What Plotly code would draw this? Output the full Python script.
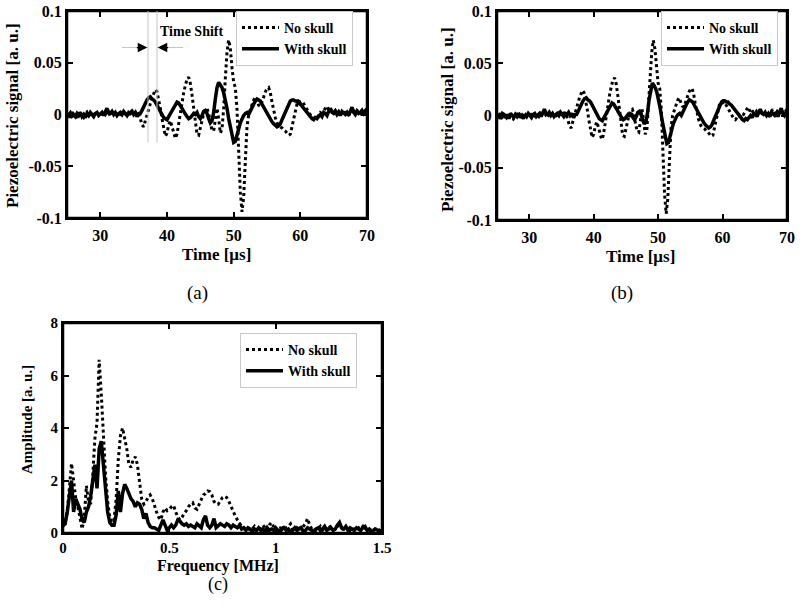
import numpy as np
import plotly.graph_objects as go

# ---------------- data ----------------
T_START = 23.0      # first sample time [us]
T_STEP = 0.25       # sampling step [us]
TIME_SHIFT = 1.35   # shift applied to the "with skull" signal in panel (b) [us]

with_skull = [
    0.001, -0.002, 0.002, -0.001, 0.000, -0.003, 0.002, 0.001,
    -0.002, 0.001, -0.003, 0.002, 0.000, -0.002, 0.001, -0.001,
    0.002, -0.002, 0.000, -0.003, 0.001, -0.001, 0.002, 0.000,
    -0.002, 0.001, 0.002, -0.001, 0.000, 0.002, -0.001, 0.003,
    0.006, 0.002, 0.001, 0.003, 0.000, 0.002, -0.001, 0.001,
    0.002, 0.000, 0.003, 0.001, -0.001, 0.002, 0.001, 0.003,
    0.000, 0.002, -0.002, 0.001, 0.001, 0.004, 0.008, 0.012,
    0.014, 0.016, 0.017, 0.015, 0.014, 0.012, 0.009, 0.005,
    0.002, -0.001, -0.003, -0.004, -0.005, -0.002, 0.001, 0.004,
    0.007, 0.010, 0.012, 0.011, 0.009, 0.006, 0.003, 0.000,
    -0.002, -0.004, -0.003, -0.001, 0.001, 0.000, 0.002, -0.002,
    -0.004, -0.001, 0.003, 0.004, 0.001, -0.004, -0.008, -0.006,
    0.002, 0.015, 0.026, 0.031, 0.029, 0.026, 0.021, 0.014,
    0.006, -0.004, -0.013, -0.021, -0.027, -0.026, -0.021, -0.014,
    -0.008, -0.004, -0.001, 0.001, 0.002, 0.000, 0.004, 0.006,
    0.010, 0.013, 0.015, 0.014, 0.013, 0.010, 0.007, 0.004,
    0.002, -0.001, -0.004, -0.007, -0.009, -0.011, -0.012, -0.011,
    -0.009, -0.005, -0.001, 0.003, 0.007, 0.010, 0.013, 0.014,
    0.014, 0.013, 0.013, 0.011, 0.010, 0.008, 0.006, 0.003,
    0.002, -0.001, -0.002, -0.004, -0.005, -0.003, -0.004, -0.002,
    0.000, -0.002, 0.002, 0.001, -0.001, 0.003, 0.006, 0.002,
    0.001, 0.003, 0.000, 0.002, -0.001, 0.003, 0.001, 0.000,
    0.002, -0.001, 0.003, 0.007, 0.002, 0.000, 0.003, 0.001,
    0.002, 0.004, 0.001, 0.003, 0.000,
]

no_skull = [
    0.000, 0.002, -0.001, 0.001, -0.002, 0.001, 0.003, -0.001,
    -0.003, 0.000, 0.002, -0.002, -0.001, 0.001, -0.002, 0.000,
    0.001, -0.001, -0.003, 0.000, 0.002, -0.002, 0.001, -0.001,
    0.000, -0.002, 0.001, 0.000, -0.001, 0.001, 0.002, 0.000,
    0.003, 0.001, -0.001, 0.002, 0.001, -0.001, 0.000, 0.002,
    0.000, 0.001, -0.001, 0.002, 0.003, 0.000, 0.001, 0.004,
    0.001, 0.002, -0.001, 0.000, -0.004, -0.010, -0.012, -0.006,
    0.000, 0.005, 0.011, 0.016, 0.020, 0.024, 0.022, 0.015,
    0.006, -0.004, -0.014, -0.021, -0.018, -0.010, -0.006, -0.011,
    -0.018, -0.023, -0.019, -0.008, 0.002, 0.012, 0.021, 0.028,
    0.034, 0.036, 0.030, 0.019, 0.006, -0.008, -0.019, -0.020,
    -0.014, -0.006, 0.001, 0.005, 0.006, 0.001, -0.008, -0.015,
    -0.016, -0.004, 0.006, -0.004, -0.018, -0.014, 0.006, 0.035,
    0.060, 0.072, 0.064, 0.045, 0.031, 0.026, 0.005, -0.035,
    -0.075, -0.094, -0.080, -0.045, -0.012, 0.000, 0.005, 0.010,
    0.014, 0.017, 0.013, 0.009, 0.008, 0.012, 0.017, 0.022,
    0.025, 0.026, 0.021, 0.012, 0.004, -0.003, -0.008, -0.011,
    -0.012, -0.013, -0.015, -0.016, -0.018, -0.020, -0.019, -0.012,
    -0.004, 0.004, 0.010, 0.013, 0.012, 0.013, 0.011, 0.008,
    0.005, 0.002, -0.001, -0.003, -0.004, -0.002, -0.003, 0.000,
    0.002, 0.001, 0.004, 0.006, 0.008, 0.004, 0.006, 0.003,
    0.002, 0.004, 0.001, 0.003, 0.000, 0.002, 0.004, 0.001,
    0.003, 0.000, 0.002, 0.006, 0.003, 0.001, 0.004, 0.002,
    0.001, 0.003, 0.002, 0.004, 0.001,
]

F_STEP = 0.01  # frequency resolution [MHz]

spec_no_skull = [
    0.25, 0.40, 0.80, 1.90, 2.65, 2.00, 1.30, 1.00, 0.60, 0.15,
    0.60, 1.80, 1.20, 1.10, 2.20, 3.60, 4.20, 6.60, 5.30, 3.50,
    2.20, 1.20, 0.60, 0.40, 0.50, 1.30, 2.80, 3.70, 4.00, 3.60,
    3.20, 2.60, 2.50, 2.80, 2.90, 2.60, 2.00, 1.30, 1.10, 1.20,
    1.35, 1.45, 1.30, 1.00, 0.80, 0.60, 0.50, 0.80, 0.95, 0.85,
    0.90, 1.00, 1.05, 0.80, 0.60, 0.50, 0.60, 0.75, 0.85, 1.00,
    1.10, 1.15, 0.95, 0.90, 1.10, 1.30, 1.45, 1.50, 1.60, 1.58,
    1.45, 1.20, 1.10, 1.10, 1.25, 1.35, 1.40, 1.35, 1.20, 1.00,
    0.80, 0.65, 0.50, 0.35, 0.25, 0.20, 0.15, 0.20, 0.10, 0.15,
    0.25, 0.10, 0.20, 0.15, 0.30, 0.20, 0.10, 0.30, 0.40, 0.25,
    0.10, 0.20, 0.15, 0.30, 0.10, 0.20, 0.25, 0.35, 0.15, 0.10,
    0.20, 0.30, 0.15, 0.25, 0.35, 0.55, 0.30, 0.15, 0.20, 0.10,
    0.15, 0.25, 0.10, 0.20, 0.15, 0.30, 0.20, 0.10, 0.15, 0.25,
    0.30, 0.20, 0.10, 0.15, 0.25, 0.10, 0.20, 0.15, 0.10, 0.20,
    0.15, 0.25, 0.10, 0.20, 0.15, 0.10, 0.20, 0.10, 0.15, 0.10,
    0.10,
]

spec_with_skull = [
    0.30, 0.35, 0.80, 1.50, 2.00, 0.80, 1.30, 1.10, 0.90, 0.50,
    0.40, 0.80, 1.00, 1.40, 2.00, 2.60, 1.70, 3.20, 3.50, 2.60,
    1.50, 0.80, 0.40, 0.30, 0.30, 0.70, 1.60, 0.80, 1.50, 1.85,
    1.70, 1.50, 1.30, 1.20, 1.00, 1.15, 1.10, 0.90, 0.55, 0.75,
    0.40, 0.25, 0.20, 0.20, 0.15, 0.10, 0.30, 0.50, 0.30, 0.10,
    0.20, 0.30, 0.20, 0.30, 0.50, 0.45, 0.35, 0.30, 0.35, 0.25,
    0.30, 0.25, 0.20, 0.35, 0.25, 0.20, 0.50, 0.65, 0.30, 0.20,
    0.30, 0.55, 0.20, 0.30, 0.35, 0.30, 0.25, 0.35, 0.30, 0.20,
    0.30, 0.25, 0.20, 0.30, 0.15, 0.20, 0.10, 0.20, 0.15, 0.05,
    0.15, 0.10, 0.20, 0.10, 0.15, 0.05, 0.20, 0.10, 0.15, 0.10,
    0.20, 0.10, 0.05, 0.15, 0.20, 0.10, 0.15, 0.05, 0.10, 0.20,
    0.10, 0.15, 0.20, 0.05, 0.10, 0.20, 0.15, 0.10, 0.05, 0.15,
    0.20, 0.10, 0.15, 0.25, 0.10, 0.15, 0.20, 0.10, 0.15, 0.30,
    0.40, 0.20, 0.15, 0.25, 0.10, 0.20, 0.15, 0.10, 0.20, 0.15,
    0.10, 0.20, 0.25, 0.10, 0.15, 0.05, 0.10, 0.15, 0.10, 0.05,
    0.10,
]

time_us = np.round(T_START + T_STEP * np.arange(len(with_skull)), 3)
freq_mhz = np.round(F_STEP * np.arange(len(spec_no_skull)), 3)

T_RANGE = [25, 70]
T_TICKS = [30, 40, 50, 60, 70]
T_TICKTEXT = ["30", "40", "50", "60", "70"]
S_RANGE = [-0.1, 0.1]
S_TICKS = [-0.1, -0.05, 0, 0.05, 0.1]
S_TICKTEXT = ["-0.1", "-0.05", "0", "0.05", "0.1"]
F_RANGE = [0, 1.5]
F_TICKS = [0, 0.5, 1, 1.5]
F_TICKTEXT = ["0", "0.5", "1", "1.5"]
A_RANGE = [0, 8]
A_TICKS = [0, 2, 4, 6, 8]
A_TICKTEXT = ["0", "2", "4", "6", "8"]

SERIES_NAMES = ["No skull", "With skull"]

# ---------------- styling helpers ----------------
W, H = 800, 605
SERIF = "Liberation Serif, Times New Roman, serif"


def px_x(p):
    return p / W


def px_y(p):
    return 1 - p / H


LW_DOT = 3
LW_SOLID = 3.5

fig = go.Figure()

# panel (a)
fig.add_trace(go.Scatter(x=time_us, y=no_skull, mode="lines", name=SERIES_NAMES[0],
                         line=dict(color="black", width=LW_DOT, dash="dot"),
                         xaxis="x", yaxis="y", legend="legend"))
fig.add_trace(go.Scatter(x=time_us, y=with_skull, mode="lines", name=SERIES_NAMES[1],
                         line=dict(color="black", width=LW_SOLID),
                         xaxis="x", yaxis="y", legend="legend"))
# panel (b)
fig.add_trace(go.Scatter(x=time_us, y=no_skull, mode="lines", name=SERIES_NAMES[0],
                         line=dict(color="black", width=LW_DOT, dash="dot"),
                         xaxis="x2", yaxis="y2", legend="legend2"))
fig.add_trace(go.Scatter(x=time_us + TIME_SHIFT, y=with_skull, mode="lines", name=SERIES_NAMES[1],
                         line=dict(color="black", width=LW_SOLID),
                         xaxis="x2", yaxis="y2", legend="legend2"))
# panel (c)
fig.add_trace(go.Scatter(x=freq_mhz, y=spec_no_skull, mode="lines", name=SERIES_NAMES[0],
                         line=dict(color="black", width=LW_DOT, dash="dot"),
                         xaxis="x3", yaxis="y3", legend="legend3"))
fig.add_trace(go.Scatter(x=freq_mhz, y=spec_with_skull, mode="lines", name=SERIES_NAMES[1],
                         line=dict(color="black", width=LW_SOLID),
                         xaxis="x3", yaxis="y3", legend="legend3"))


def axis(domain, rng, tv, tt, anchor, size, standoff=None):
    d = dict(domain=domain, range=rng, anchor=anchor, automargin=False,
             tickmode="array", tickvals=tv, ticktext=tt,
             showline=True, linecolor="black", linewidth=2, mirror="ticks",
             ticks="inside", ticklen=6, tickwidth=2, tickcolor="black",
             showgrid=False, zeroline=False,
             tickfont=dict(family=SERIF, size=size, color="black", weight="bold"))
    if standoff is not None:
        d["ticklabelstandoff"] = standoff
    return d


def legend_box(x, y):
    return dict(x=x, y=y, xanchor="left", yanchor="top", bgcolor="white",
                bordercolor="#c8c8c8", borderwidth=1, itemwidth=37,
                font=dict(family=SERIF, size=14, color="black", weight="bold"))


fig.update_layout(
    template="none",
    width=W, height=H, margin=dict(l=0, r=0, t=0, b=0, pad=0, autoexpand=False),
    paper_bgcolor="white", plot_bgcolor="white", showlegend=True,
    xaxis=axis([px_x(67), px_x(367)], T_RANGE, T_TICKS, T_TICKTEXT, "y", 16, 2),
    yaxis=axis([px_y(218), px_y(11)], S_RANGE, S_TICKS, S_TICKTEXT, "x", 16),
    xaxis2=axis([px_x(497), px_x(787)], T_RANGE, T_TICKS, T_TICKTEXT, "y2", 16, 2),
    yaxis2=axis([px_y(220), px_y(11)], S_RANGE, S_TICKS, S_TICKTEXT, "x2", 16),
    xaxis3=axis([px_x(63), px_x(382)], F_RANGE, F_TICKS, F_TICKTEXT, "y3", 15),
    yaxis3=axis([px_y(533), px_y(323)], A_RANGE, A_TICKS, A_TICKTEXT, "x3", 15),
    legend=legend_box(px_x(236), px_y(11)),
    legend2=legend_box(px_x(661), px_y(11)),
    legend3=legend_box(px_x(240), px_y(333)),
)

# thick frame around each panel (drawn in axis-domain coordinates)
for xr, yr in (("x", "y"), ("x2", "y2"), ("x3", "y3")):
    fig.add_shape(type="rect", xref=f"{xr} domain", yref=f"{yr} domain",
                  x0=0, x1=1, y0=0, y1=1, line=dict(color="black", width=2.5),
                  fillcolor="rgba(0,0,0,0)", layer="above")

# ---- "Time Shift" marker in panel (a) ----
SHIFT_T0 = 37.15
SHIFT_T1 = SHIFT_T0 + TIME_SHIFT
GRAY = "#c4c4c4"
for tx in (SHIFT_T0, SHIFT_T1):
    fig.add_shape(type="line", xref="x", yref="y", x0=tx, x1=tx, y0=0.1, y1=-0.027,
                  line=dict(color=GRAY, width=1))
fig.add_shape(type="line", xref="x", yref="y", x0=33.25, x1=SHIFT_T0, y0=0.0647, y1=0.0647,
              line=dict(color=GRAY, width=1))
fig.add_shape(type="line", xref="x", yref="y", x0=SHIFT_T1, x1=42.4, y0=0.0647, y1=0.0647,
              line=dict(color=GRAY, width=1))
fig.add_annotation(xref="x", yref="y", x=SHIFT_T0 - 0.1, y=0.0647, ax=-12, ay=0, text="",
                   showarrow=True, arrowhead=2, arrowsize=1.6, arrowwidth=1.2, arrowcolor="black")
fig.add_annotation(xref="x", yref="y", x=SHIFT_T1 + 0.1, y=0.0647, ax=12, ay=0, text="",
                   showarrow=True, arrowhead=2, arrowsize=1.6, arrowwidth=1.2, arrowcolor="black")
fig.add_annotation(xref="x", yref="y", x=43.6, y=0.080, text="Time Shift", showarrow=False,
                   font=dict(family=SERIF, size=14, color="black", weight="bold"))

# ---- axis titles and panel labels ----
def label(text, x, y, size, bold=True, angle=0):
    fig.add_annotation(xref="paper", yref="paper", x=px_x(x), y=px_y(y), text=text,
                       showarrow=False, xanchor="center", yanchor="middle", textangle=angle,
                       font=dict(family=SERIF, size=size, color="black",
                                 weight="bold" if bold else "normal"))


label("Time [μs]", 216, 254, 17)
label("Time [μs]", 640, 256, 17)
label("Frequency [MHz]", 218, 566, 16)
label("Piezoelectric signal [a. u.]", 13, 116, 17, angle=-90)
label("Piezoelectric signal [a. u.]", 447, 120, 17, angle=-90)
label("Amplitude [a. u.]", 27, 420, 15, angle=-90)
label("(a)", 197, 293, 19, bold=False)
label("(b)", 622, 293, 19, bold=False)
label("(c)", 218, 584, 18, bold=False)

# the page body gets no default 8px browser margin, so the 800x605 figure fills the window
fig.write_html("out.html", config={"displayModeBar": False},
               post_script="document.body.style.margin='0px';")
